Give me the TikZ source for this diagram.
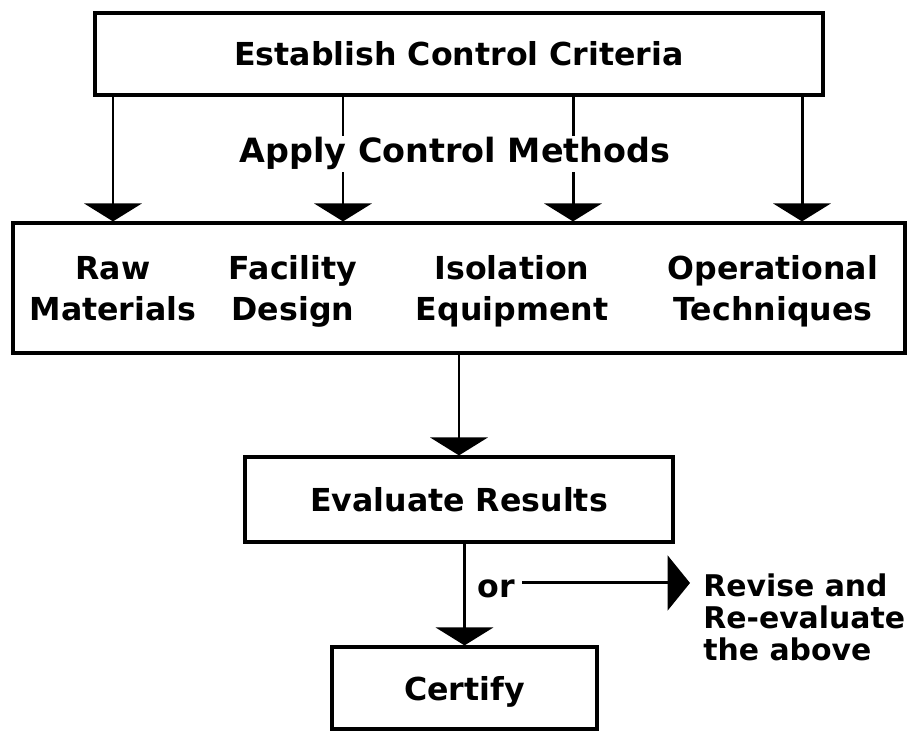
\documentclass[tikz,border=0pt]{standalone}
\usepackage{fontspec}
\setmainfont{DejaVu Sans}
\usetikzlibrary{arrows.meta, positioning}

\tikzset{
  box/.style={draw, line width=1.8pt, inner sep=0pt},
  lbl/.style={font=\bfseries\fontsize{18}{22.8}\selectfont, align=center},
  flow/.style={line width=1.7pt, -{Triangle[width=1.15cm, length=0.36cm]}},
  side/.style={line width=1.7pt, -{Triangle[width=1.1cm, length=0.45cm]}},
}

\begin{document}
\begin{tikzpicture}
  \useasboundingbox (0,0) rectangle (18.3,14.62);

  % boxes
  \node[box, lbl, minimum width=14.56cm, minimum height=1.64cm] (crit) at (9.18,13.54) {Establish Control Criteria};
  \node[box, minimum width=17.84cm, minimum height=2.6cm] (mid) at (9.18,8.86) {};
  \node[box, lbl, minimum width=8.56cm, minimum height=1.7cm] (eval) at (9.18,4.63) {Evaluate Results};
  \node[box, lbl, text depth=0pt, minimum width=5.3cm, minimum height=1.64cm] (cert) at (9.29,0.86) {Certify};

  % things to control
  \node[lbl] (raw) at (2.26,8.78) {\strut Raw\\\strut Materials};
  \node[lbl] (fac) at (5.86,8.78) {\strut Facility\\\strut Design};
  \node[lbl] (iso) at (10.24,8.78) {\strut Isolation\\\strut Equipment};
  \node[lbl] (ops) at (15.46,8.78) {\strut Operational\\\strut Techniques};

  % arrows down from the criteria
  \coordinate (a1) at (2.26,0);
  \coordinate (a2) at (6.86,0);
  \coordinate (a3) at (11.46,0);
  \coordinate (a4) at (16.04,0);
  \foreach \c in {a1,a2,a3,a4}
    \draw[flow] (crit.south -| \c) -- (mid.north -| \c);

  \node[lbl, font=\bfseries\fontsize{19}{22}\selectfont, fill=white, inner sep=1pt, anchor=base] (apply) at (9.1,11.36) {Apply Control Methods};

  % down to evaluation and certification
  \draw[flow] (mid.south -| eval.north) -- (eval.north);
  \draw[flow] (eval.south -| cert.north) -- (cert.north);

  % or revise
  \node[lbl] (or) at (9.92,2.84) {or};
  \node[font=\bfseries\fontsize{17}{18.2}\selectfont, align=left, anchor=west, inner sep=0pt] (rev) at (14.06,2.27) {Revise and\\Re-evaluate\\the above};
  \coordinate (s) at (10.44,2.96);
  \draw[side] (s) -- ([xshift=-0.26cm]rev.west |- s);
\end{tikzpicture}
\end{document}
